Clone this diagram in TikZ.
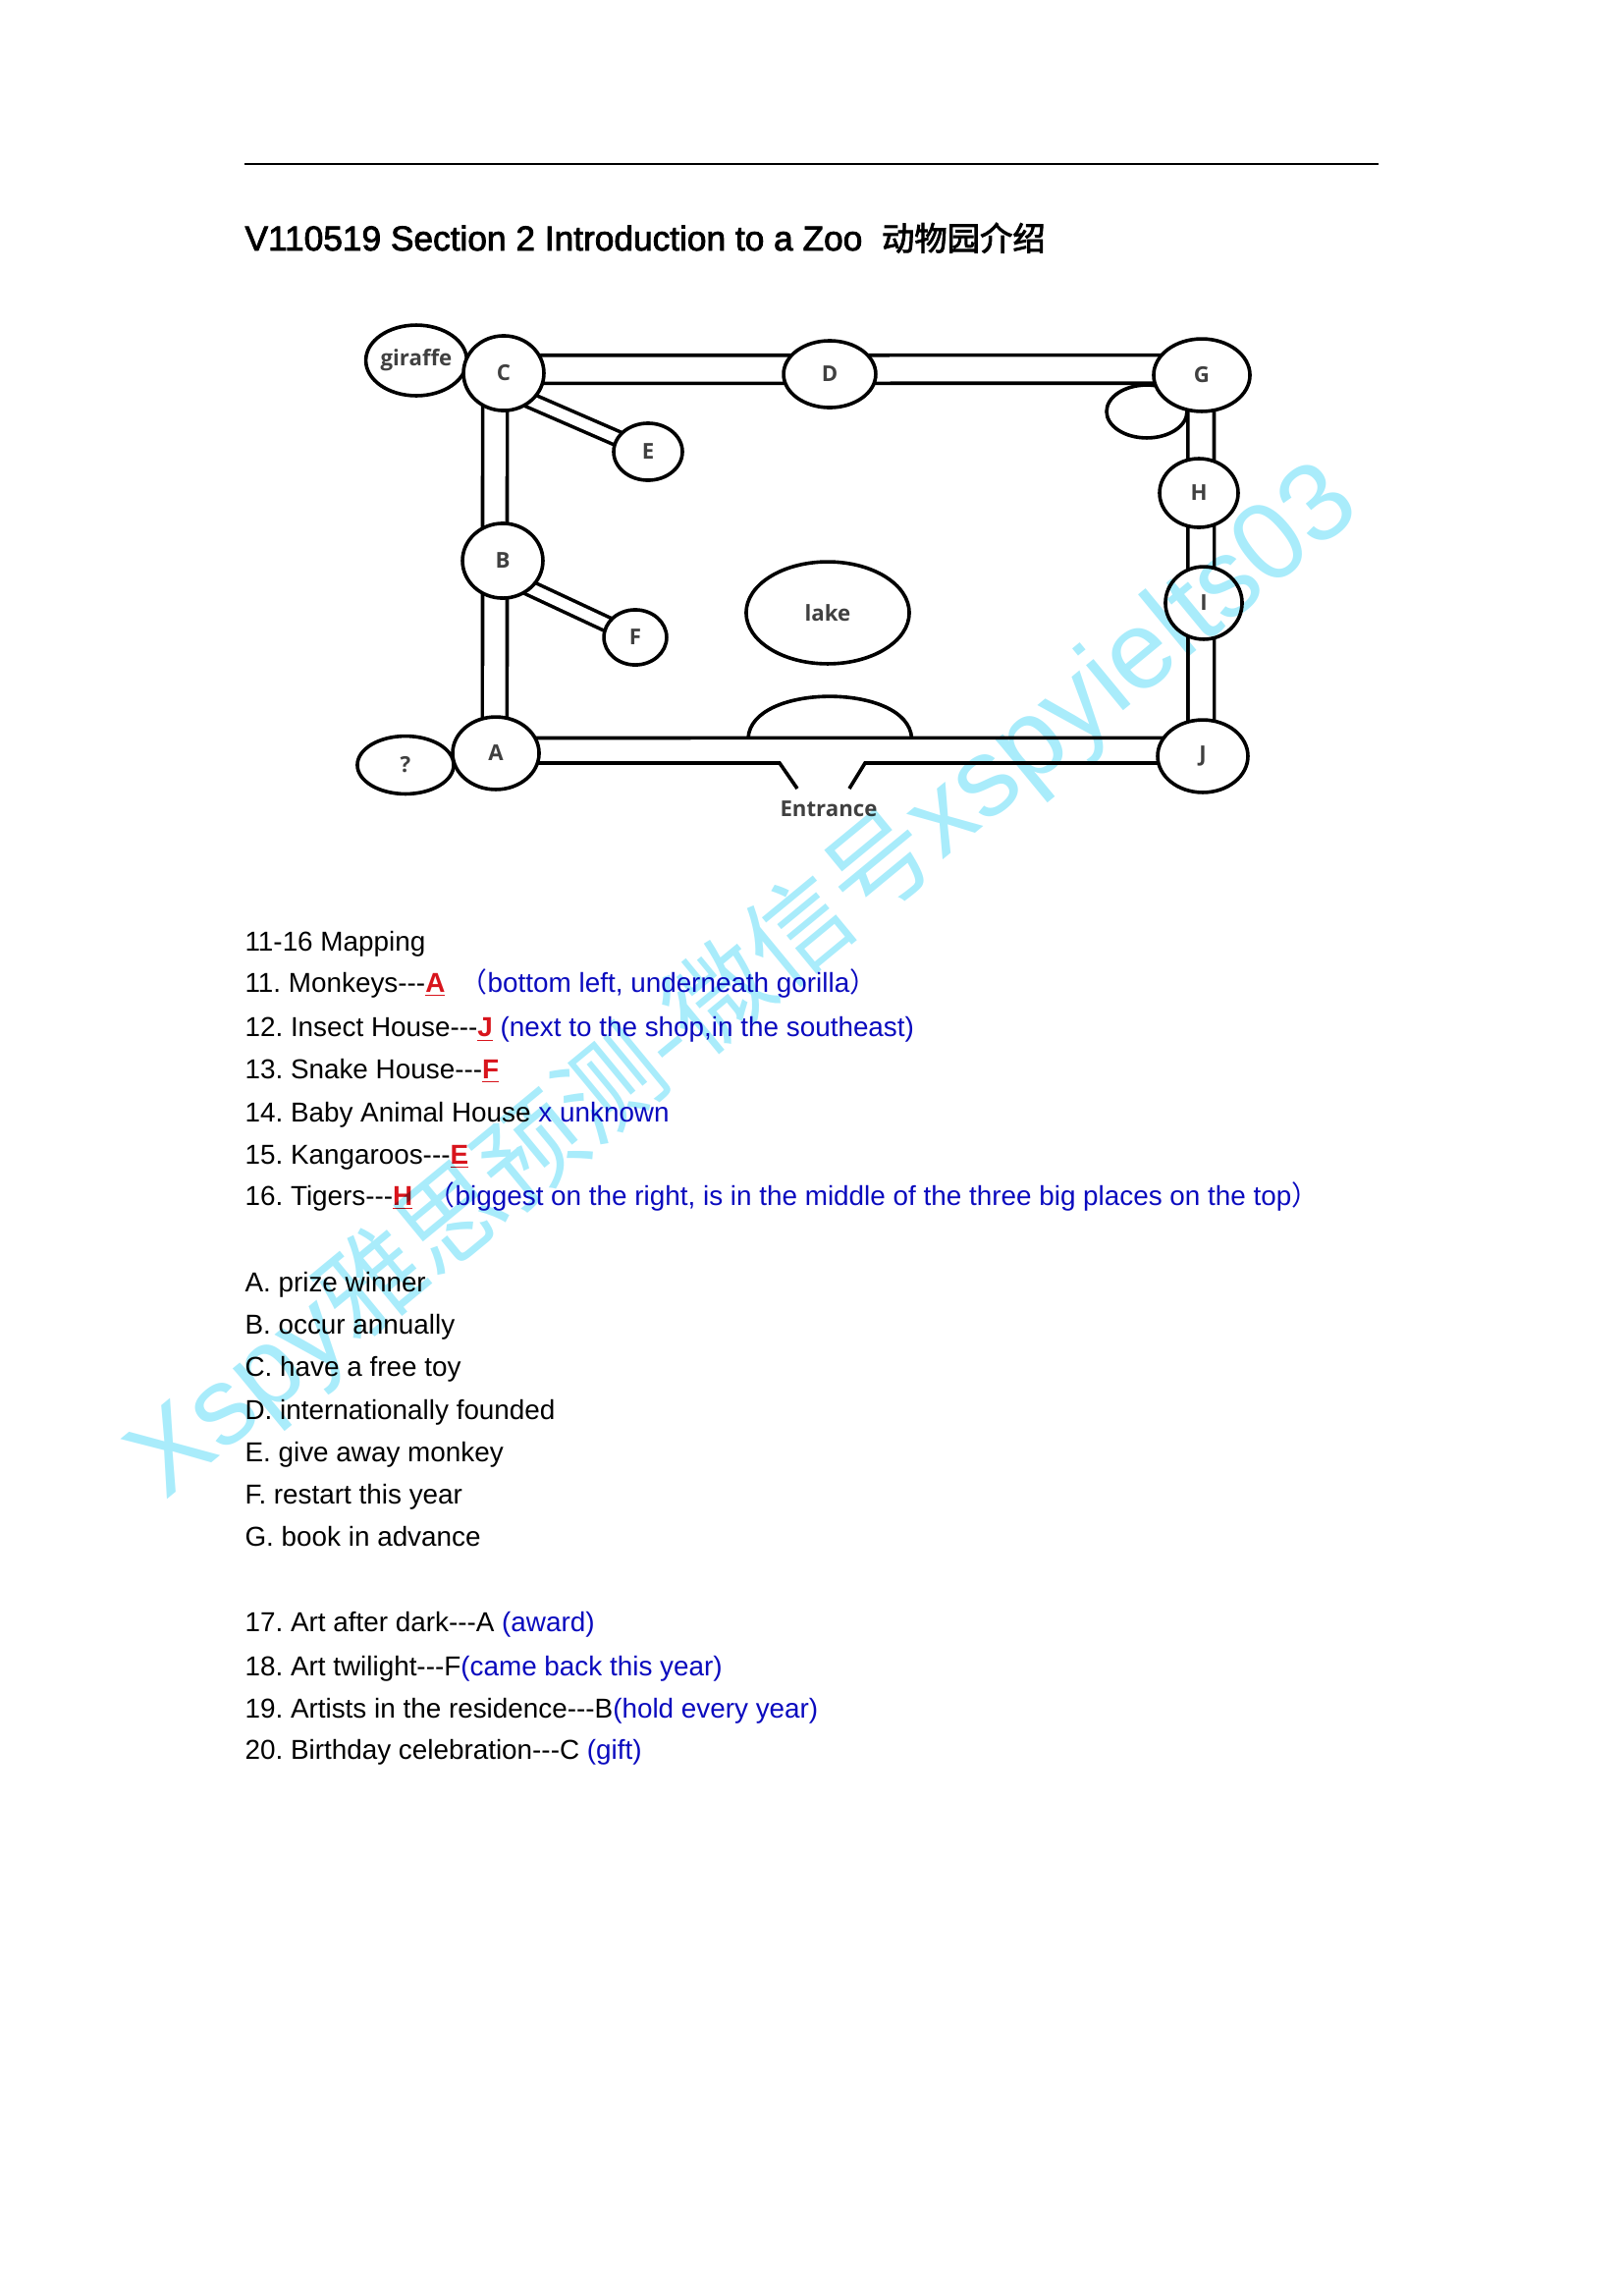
\documentclass[tikz,border=0pt]{standalone}
\usepackage{fontspec}
\setmainfont{Liberation Sans}
\newfontfamily\cjk{Noto Sans CJK SC}
\newfontfamily\mapfont{Open Sans}
\usetikzlibrary{shapes.geometric,backgrounds}
\definecolor{noteblue}{HTML}{0A0ABE}
\definecolor{answerred}{HTML}{D8141C}
\definecolor{markcyan}{HTML}{A9ECFB}
\newcommand{\answer}[1]{\textcolor{answerred}{\underline{\textbf{#1}}}}
\newcommand{\note}[1]{\textcolor{noteblue}{#1}}
\newcommand{\dashes}{-{}-{}-}
\newcommand{\heavy}[2]{\special{pdf:code 2 Tr #1 w}#2\special{pdf:code 0 Tr}}
\begin{document}
\frenchspacing
\begin{tikzpicture}[
  x=0.36pt, y=-0.36pt,
  spot/.style={draw=black, fill=white, ellipse, line width=1.3pt, inner sep=0pt,
               font=\mapfont\fontsize{8}{9}\selectfont\bfseries, text=black!75},
  wall/.style={draw=black, line width=1.3pt},
  road/.style={line width=1.3pt, double=white},
  line/.style={anchor=base west, inner sep=0pt, font=\fontsize{10.03}{12}\selectfont}
]
\useasboundingbox (0,0) rectangle (1653,2338);

% heading
\coordinate (ruleleft) at (249,167);
\coordinate (ruleright) at (1404,167);
\draw[line width=0.9pt] (ruleleft) -- (ruleright);
\node[line, font=\fontsize{12.7}{15}\selectfont] (heading) at (249,255)
  {\heavy{0.3}{V110519 Section 2 Introduction to a Zoo\ \ {\cjk\fontsize{12}{15}\selectfont 动物园介绍}}};

% map
\node[spot, minimum width=36pt, minimum height=25.9pt] (giraffe) at (424,367) {giraffe};
\node[spot, minimum width=29.5pt, minimum height=27.4pt] (spotC) at (513,380) {C};
\node[spot, minimum width=33.8pt, minimum height=24.5pt] (spotD) at (845,381) {D};
\node[spot, minimum width=29.5pt, minimum height=19.4pt] (shop) at (1168,419) {};
\node[spot, minimum width=35.3pt, minimum height=26.6pt] (spotG) at (1224,382) {G};
\node[spot, minimum width=25.2pt, minimum height=20.9pt] (spotE) at (660,460) {E};
\node[spot, minimum width=29.5pt, minimum height=27.4pt] (spotB) at (512,571) {B};
\node[spot, minimum width=23pt, minimum height=20.2pt] (spotF) at (647,649) {F};
\node[spot, minimum width=59.8pt, minimum height=37.4pt] (lake) at (843,624) {lake};
\node[spot, minimum width=28.8pt, minimum height=25.2pt] (spotH) at (1221,502) {H};
\node[spot, minimum width=28.1pt, minimum height=26.6pt] (spotI) at (1226,614) {I};
\node[spot, minimum width=31.7pt, minimum height=26.6pt] (spotA) at (505,767) {A};
\node[spot, minimum width=35.3pt, minimum height=21.2pt] (unknown) at (413,779) {?};
\node[spot, minimum width=33.1pt, minimum height=26.6pt] (spotJ) at (1225,770) {J};
\node[font=\mapfont\fontsize{8}{9}\selectfont\bfseries, text=black!75, inner sep=0pt] (entrance) at (844,824) {Entrance};

\coordinate (gateleft) at (794,777);
\coordinate (gateleftend) at (812,803);
\coordinate (gateright) at (881,777);
\coordinate (gaterightend) at (865,803);
\coordinate (humpleft) at (762,751.5);
\coordinate (humpright) at (928.5,751.5);

\begin{scope}[on background layer]
\draw[road, double distance=9pt] ([yshift=1.4pt]spotC.center) -- ([yshift=2.2pt]spotG.center);
\draw[road, double distance=7.7pt] ([xshift=-3.2pt]spotC.center) -- ([xshift=-0.4pt]spotA.center);
\draw[road, double distance=8.3pt] ([xshift=-0.3pt]spotG.center) -- ([xshift=-0.6pt]spotJ.center);
\draw[road, double distance=3.9pt] ([yshift=-5.8pt]spotC.center) -- (spotE.center);
\draw[road, double distance=3.9pt] ([yshift=-5.4pt]spotB.center) -- (spotF.center);
\draw[wall] ([yshift=5.6pt]spotA.center) -- ([yshift=6.7pt]spotJ.center);
\draw[wall] ([yshift=-3.6pt]spotA.center) -- (spotA.center |- gateleft) -- (gateleft) -- (gateleftend);
\draw[wall] (spotJ.center |- gateright) -- (gateright) -- (gaterightend);
\draw[wall] (humpleft) .. controls (765,695) and (925,695) .. (humpright);
\end{scope}

% question lines
\node[line] (maphead) at (249,968) {11-16 Mapping};
\node[line] (qmonkeys) at (249,1010) {11. Monkeys\dashes\answer{A}\ \ \note{\cjk（\fontspec{Liberation Sans}bottom left, underneath gorilla\cjk）}};
\node[line] (qinsect) at (249,1055) {12. Insect House\dashes\answer{J} \note{(next to the shop,in the southeast)}};
\node[line] (qsnake) at (249,1098) {13. Snake House\dashes\answer{F}};
\node[line] (qbaby) at (249,1142) {14. Baby Animal House \note{x unknown}};
\node[line] (qkangaroo) at (249,1185) {15. Kangaroos\dashes\answer{E}};
\node[line] (qtigers) at (249,1227) {16. Tigers\dashes\answer{H}\ \ \note{\cjk（\fontspec{Liberation Sans}biggest on the right, is in the middle of the three big places on the top\cjk）}};

\node[line] (optA) at (249,1315) {A. prize winner};
\node[line] (optB) at (249,1358) {B. occur annually};
\node[line] (optC) at (249,1401) {C. have a free toy};
\node[line] (optD) at (249,1445) {D. internationally founded};
\node[line] (optE) at (249,1488) {E. give away monkey};
\node[line] (optF) at (249,1531) {F. restart this year};
\node[line] (optG) at (249,1574) {G. book in advance};

\node[line] (artdark) at (249,1661) {17. Art after dark\dashes A \note{(award)}};
\node[line] (arttwilight) at (249,1706) {18. Art twilight\dashes F\note{(came back this year)}};
\node[line] (artresidence) at (249,1749) {19. Artists in the residence\dashes B\note{(hold every year)}};
\node[line] (artbirthday) at (249,1791) {20. Birthday celebration\dashes C \note{(gift)}};

% watermark
\begin{scope}[blend mode=multiply]
\node[rotate=39.5, text=markcyan, inner sep=0pt, font=\fontsize{40.5}{42}\selectfont] (watermark) at (758,1000)
  {Xspy{\cjk\fontsize{38}{42}\selectfont 雅思预测-微信号}xspyielts03};
\end{scope}
\end{tikzpicture}
\end{document}
